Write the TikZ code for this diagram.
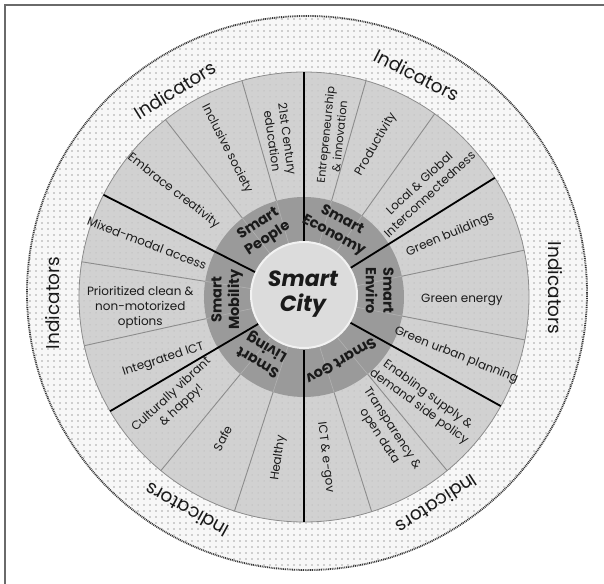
\documentclass[tikz,border=0pt]{standalone}
\usepackage{fontspec}
\setmainfont{Poppins}
\usetikzlibrary{patterns.meta}
\definecolor{ringbg}{HTML}{F7F7F7}
\definecolor{dotc}{HTML}{4A4A4A}
\definecolor{wheelc}{HTML}{D1D1D1}
\definecolor{wdot}{HTML}{ABABAB}
\definecolor{darkring}{HTML}{9A9A9A}
\definecolor{innerc}{HTML}{DCDCDC}
\definecolor{txt}{HTML}{1A1A1A}
\definecolor{thinl}{HTML}{8C8C8C}
\definecolor{framec}{HTML}{6A6A6A}
\tikzset{
  lbl/.style={font=\fontsize{12}{15}\selectfont, align=center, text=txt, inner sep=0pt},
  slbl/.style={font=\fontsize{11.3}{14}\selectfont, align=center, text=txt, inner sep=0pt},
  rlbl/.style={font=\fontsize{14.5}{17.5}\selectfont\bfseries, align=center, text=txt, inner sep=0pt},
  ilbl/.style={font=\fontsize{18.5}{20}\selectfont, text=txt, inner sep=0pt},
  blackline/.style={black, line width=1.8pt},
  thinline/.style={thinl, line width=0.9pt},
  ringline/.style={gray!60, line width=0.6pt}
}
\begin{document}
\begin{tikzpicture}[x=1pt,y=1pt]
\useasboundingbox (-304,-286) rectangle (300,297);
\fill[white] (-304,-286) rectangle (300,297);
\draw[framec, line width=1.4pt] (-299,-290) -- (-299,292) -- (304,292);
% outer indicator ring
\path[fill=ringbg, postaction={pattern={Dots[distance=6pt,radius=0.6pt]}, pattern color=dotc}]
  (3,4) ellipse [x radius=281, y radius=278];
\draw[dotc!70!black, line width=1.8pt, dash pattern=on 0.9pt off 0.9pt]
  (3,4) ellipse [x radius=280, y radius=277];
% wheel
\path[fill=wheelc, postaction={pattern={Dots[distance=6pt,radius=0.5pt]}, pattern color=wdot}]
  (0,0) circle (225);
\draw[thinl, line width=0.8pt] (0,0) circle (225);
% dark ring
\fill[darkring] (0,0) circle (100);
\foreach \a in {106,128,74,54.5,12,-11,-50.5,-72.5,252,230.5,192.5,171} {
  \draw[thinline] (\a:100) -- (\a:225);
  \draw[ringline] (\a:53) -- (\a:100);
}
\foreach \a in {90,32,-29,-90,210.5,153} {
  \draw[blackline] (\a:53) -- (\a:225);
}
% centre
\draw[fill=innerc, draw=white!90!gray, line width=2pt] (0,2) circle (53);
\node[font=\fontsize{22}{25}\selectfont\bfseries\itshape, align=center, text=txt] (city) at (-1,3) {Smart\\City};
% ring labels
\node[rlbl, rotate=33] (rpeople) at (122:77) {Smart\\People};
\node[rlbl, rotate=-28] (recon) at (64:77) {Smart\\Economy};
\node[rlbl, rotate=-90] (renv) at (5:76) {Smart\\Enviro};
\node[rlbl, rotate=210] (rgov) at (-60:74) {Smart Gov};
\node[rlbl, rotate=150] (rliv) at (234:70) {Smart\\Living};
\node[rlbl, rotate=90] (rmob) at (182:77) {Smart\\Mobility};
% people
\node[lbl, rotate=-82] (edu) at (98.7:159) {21st Century\\education};
\node[lbl, rotate=-63] (incl) at (117.5:167) {Inclusive society};
\node[lbl, rotate=-38] (embr) at (141:168) {Embrace creativity};
% mobility
\node[lbl, rotate=-21] (mixed) at (161:166) {Mixed-modal access};
\node[lbl] (prio) at (183.5:164) {Prioritized clean \&\\non-motorized\\options};
\node[lbl, rotate=18] (ict) at (204:154) {Integrated ICT};
% living
\node[lbl, rotate=43] (cult) at (219:164) {Culturally vibrant\\\& happy!};
\node[lbl, rotate=62] (safe) at (240:163) {Safe};
\node[lbl, rotate=82] (health) at (261:163) {Healthy};
% gov
\node[lbl, rotate=-83] (egov) at (-82.5:162) {ICT \& e-gov};
\node[lbl, rotate=-57] (transp) at (-59:158) {Transparency \&\\open data};
\node[lbl, rotate=-36] (enab) at (-41:158) {Enabling supply \&\\demand side policy};
% enviro
\node[lbl, rotate=-22] (gurban) at (-21:163) {Green urban planning};
\node[lbl] (genergy) at (-1:158) {Green energy};
\node[lbl, rotate=23] (gbuild) at (23:159) {Green buildings};
% economy
\node[lbl, rotate=43] (local) at (42:162) {Local \& Global\\Interconnectedness};
\node[lbl, rotate=60] (prod) at (64.8:169) {Productivity};
\node[slbl, rotate=84] (entre) at (80:164) {Entrepreneurship\\\& innovation};
% indicators
\node[ilbl, rotate=32] (ind1) at (-129,207) {Indicators};
\node[ilbl, rotate=-27] (ind2) at (113,222) {Indicators};
\node[ilbl, rotate=-90] (ind3) at (251,9) {Indicators};
\node[ilbl, rotate=90] (ind4) at (-251,-6) {Indicators};
\node[ilbl, rotate=151] (ind5) at (-117,-213) {Indicators};
\node[ilbl, rotate=213] (ind6) at (133,-207) {Indicators};
\end{tikzpicture}
\end{document}
